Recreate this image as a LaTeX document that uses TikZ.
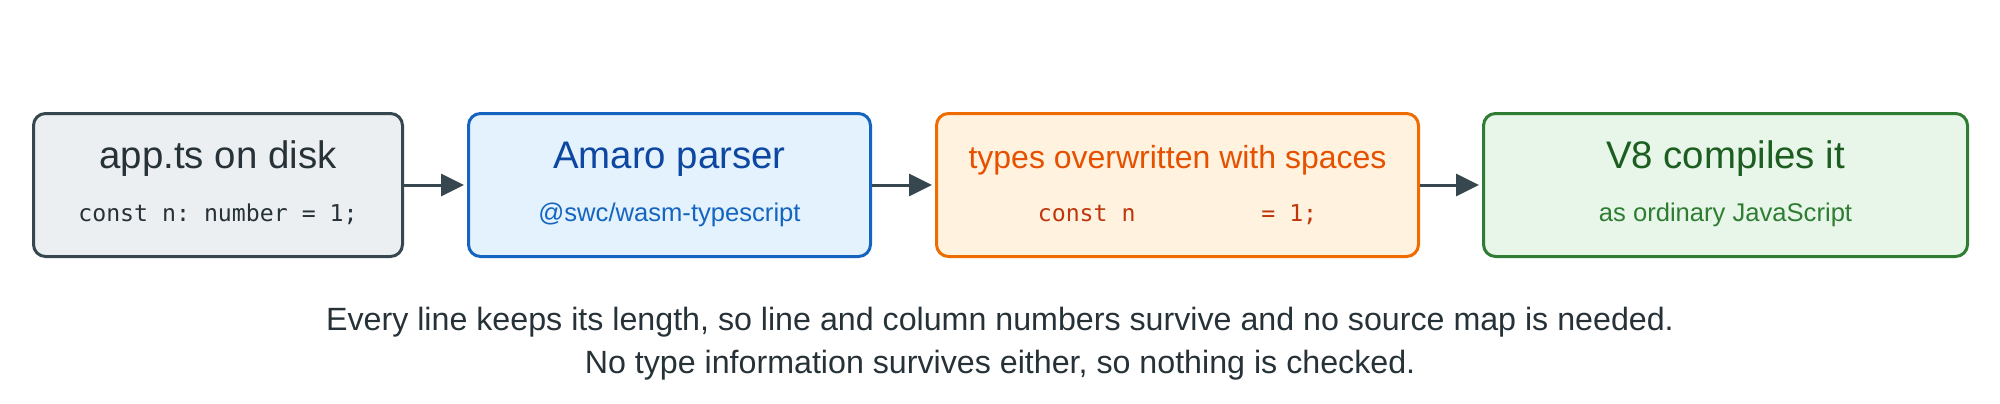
\documentclass[tikz,border=0pt]{standalone}
\usepackage{fontspec}
\setmainfont{Liberation Sans}
\newfontfamily\codefont{DejaVu Sans Mono}
\usetikzlibrary{arrows.meta}
\frenchspacing

\definecolor{slateline}{HTML}{37474F}
\definecolor{slatefill}{HTML}{ECEFF1}
\definecolor{slatetext}{HTML}{263238}
\definecolor{blueline}{HTML}{1565C0}
\definecolor{bluefill}{HTML}{E3F2FD}
\definecolor{bluetext}{HTML}{0D47A1}
\definecolor{orangeline}{HTML}{EF6C00}
\definecolor{orangefill}{HTML}{FFF3E0}
\definecolor{orangetext}{HTML}{E65100}
\definecolor{rusttext}{HTML}{BF360C}
\definecolor{greenline}{HTML}{2E7D32}
\definecolor{greenfill}{HTML}{E8F5E9}
\definecolor{greentext}{HTML}{1B5E20}

\tikzset{
  stage/.style={draw, rounded corners=6pt, line width=1.5pt,
    minimum height=71.5pt, inner sep=0pt},
  heading/.style={anchor=base, font=\fontsize{19.2}{23}\selectfont},
  detail/.style={anchor=base, font=\fontsize{12.8}{15}\selectfont},
  snippet/.style={anchor=base, font=\codefont\fontsize{11.6}{14}\selectfont},
  flow/.style={-{Triangle[length=11.5pt, width=11pt]}, line width=1.5pt,
    slateline, shorten >=1.5pt},
  remark/.style={anchor=base, slatetext, font=\fontsize{16.1}{19}\selectfont},
}

\begin{document}
\begin{tikzpicture}[x=1pt, y=1pt]
  \useasboundingbox (0, 0) rectangle (1000, 201.5);

  % the four stages
  \node[stage, draw=slateline, fill=slatefill, minimum width=184.5pt]
    (disk) at (109, 109) {};
  \node[stage, draw=blueline, fill=bluefill, minimum width=201pt]
    (parser) at (334.75, 109) {};
  \node[stage, draw=orangeline, fill=orangefill, minimum width=241pt]
    (blank) at (588.75, 109) {};
  \node[stage, draw=greenline, fill=greenfill, minimum width=242pt]
    (engine) at (862.75, 109) {};

  \node[heading, slatetext] (disk title) at ([yshift=8.5pt]disk.center)
    {app.ts on disk};
  \node[snippet, slatetext] (disk code) at ([yshift=-18pt]disk.center)
    {const n: number = 1;};

  \node[heading, bluetext] (parser title) at ([yshift=8.5pt]parser.center)
    {Amaro parser};
  \node[detail, blueline] (parser pkg) at ([yshift=-18pt]parser.center)
    {@swc/wasm-typescript};

  \node[heading, orangetext, font=\fontsize{16}{19}\selectfont]
    (blank title) at ([yshift=8.5pt]blank.center)
    {types overwritten with spaces};
  \node[snippet, rusttext] (blank code) at ([yshift=-18pt]blank.center)
    {const n\ \ \ \ \ \ \ \ \ = 1;};

  \node[heading, greentext] (engine title) at ([yshift=8.5pt]engine.center)
    {V8 compiles it};
  \node[detail, greenline] (engine note) at ([yshift=-18pt]engine.center)
    {as ordinary JavaScript};

  \draw[flow] (disk.east) -- (parser.west);
  \draw[flow] (parser.east) -- (blank.west);
  \draw[flow] (blank.east) -- (engine.west);

  % caption
  \node[remark] (caption one) at (500, 36.5)
    {Every line keeps its length, so line and column numbers survive and no source map is needed.};
  \node[remark] (caption two) at (500, 14.8)
    {No type information survives either, so nothing is checked.};
\end{tikzpicture}
\end{document}
